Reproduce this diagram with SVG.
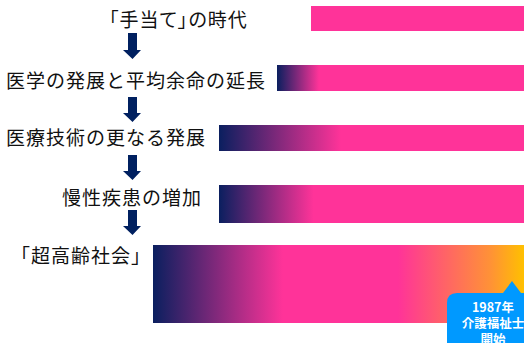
<svg xmlns="http://www.w3.org/2000/svg" width="524" height="343" viewBox="0 0 524 343">
<style>
.lbl{font-family:"Noto Sans CJK JP","Noto Sans CJK SC",sans-serif;font-size:19px;letter-spacing:1px;fill:#111}
.pa{font-feature-settings:"palt"}
.arr{fill:#002060}
.co{font-family:"Noto Sans CJK JP",sans-serif;font-size:12.5px;font-weight:bold;fill:#fff;text-anchor:middle}
</style>
<defs>
<linearGradient id="g2" x1="0" y1="0" x2="1" y2="0"><stop offset="0" stop-color="#0A1F5F"/><stop offset="0.17" stop-color="#FF3399"/><stop offset="1" stop-color="#FF3399"/></linearGradient>
<linearGradient id="g3" x1="0" y1="0" x2="1" y2="0"><stop offset="0" stop-color="#0A1F5F"/><stop offset="0.4" stop-color="#FF3399"/><stop offset="1" stop-color="#FF3399"/></linearGradient>
<linearGradient id="g4" x1="0" y1="0" x2="1" y2="0"><stop offset="0" stop-color="#0A1F5F"/><stop offset="0.31" stop-color="#FF3399"/><stop offset="1" stop-color="#FF3399"/></linearGradient>
<linearGradient id="g5" x1="0" y1="0" x2="1" y2="0"><stop offset="0" stop-color="#0A1F5F"/><stop offset="0.35" stop-color="#FF3399"/><stop offset="0.66" stop-color="#FF3399"/><stop offset="0.91" stop-color="#FF9236"/><stop offset="1" stop-color="#FFC000"/></linearGradient>
</defs>
<g id="bars">
<rect x="311" y="6" width="213" height="25" fill="#FF3399"/>
<rect x="277" y="65" width="247" height="26" fill="url(#g2)"/>
<rect x="219" y="125" width="305" height="26" fill="url(#g3)"/>
<rect x="219" y="185" width="305" height="38" fill="url(#g4)"/>
<rect x="153" y="245" width="371" height="78" fill="url(#g5)"/>
</g>
<g id="n1"><text class="lbl pa" x="109" y="27">「手当て」の時代</text></g>
<g id="n2"><text class="lbl" x="6" y="88">医学の発展と平均余命の延長</text></g>
<g id="n3"><text class="lbl" x="6" y="145">医療技術の更なる発展</text></g>
<g id="n4"><text class="lbl" x="62" y="205">慢性疾患の増加</text></g>
<g id="n5"><text class="lbl" x="11" y="263">「超高齢社会」</text></g>
<g id="connectors">
<path class="arr" d="M128 33H137V50H141L132.5 59L123 50H128Z"/>
<path class="arr" d="M128 97H137V113H141L132.5 122L123 113H128Z"/>
<path class="arr" d="M128 155H137V171H141L132.5 180L123 171H128Z"/>
<path class="arr" d="M128 210H137V226H141L132.5 235L123 226H128Z"/>
</g>
<g id="callout">
<path d="M447 343V303Q447 293 457 293H503L512 281L521 293H524V343Z" fill="#0099FF"/>
<text class="co" x="493" y="312">1987年</text>
<text class="co" x="493" y="328">介護福祉士</text>
<text class="co" x="493" y="344">開始</text>
</g>
</svg>
